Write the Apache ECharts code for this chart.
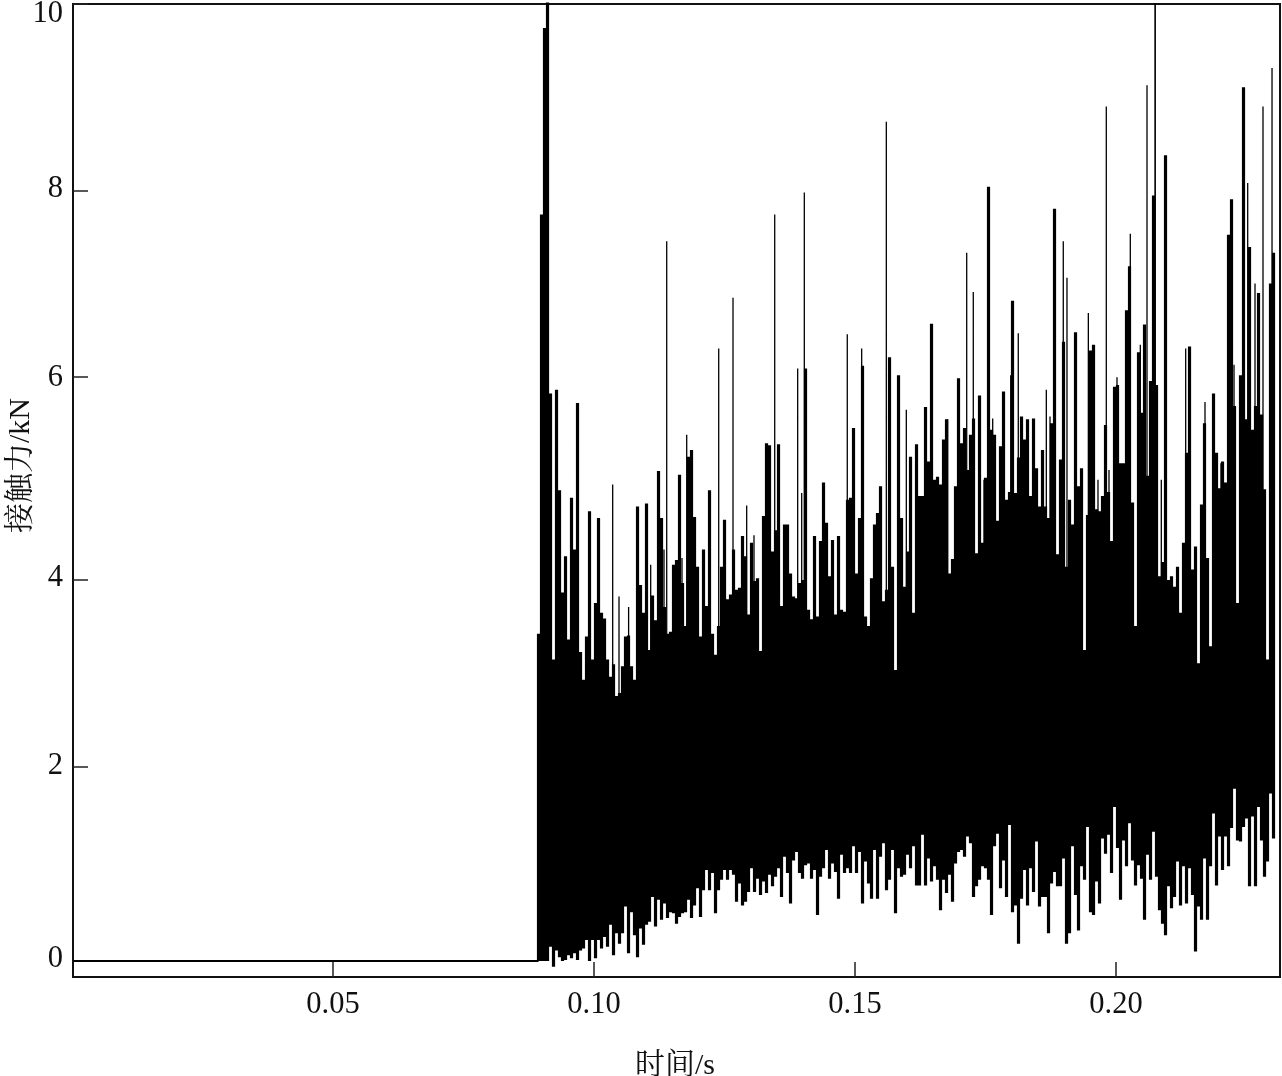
<!DOCTYPE html>
<html><head><meta charset="utf-8">
<style>html,body{margin:0;padding:0;background:#fff}#c{width:1282px;height:1076px}</style>
<script src="https://cdn.jsdelivr.net/npm/echarts@6/dist/echarts.min.js"></script>
</head><body><div id="c"></div>
<script>
// upper reach of the force trace (kN) in successive time slots after impact
const peakForce = [
3.42,7.8,9.75,10.03,5.93,3.15,5.97,4.92,3.85,4.23,
3.36,4.84,4.3,5.83,3.23,2.94,3.39,4.7,3.15,3.74,
4.63,3.64,3.58,3.15,2.97,3.1,2.77,2.8,3.08,3.39,
3.4,3.08,2.94,4.75,3.93,3.64,4.78,3.25,3.82,3.56,
5.12,4.63,3.7,3.42,3.44,4.14,4.19,5.08,3.95,3.5,
5.27,5.34,4.64,4.12,3.39,4.3,3.71,4.92,3.42,3.2,
3.5,4.12,4.61,3.78,3.83,4.3,3.88,3.9,4.44,4.23,
3.62,4.37,3.97,4.0,3.24,4.65,5.41,5.39,4.28,4.5,
5.4,3.71,4.56,4.56,4.05,3.81,3.79,3.95,3.98,6.19,
3.67,3.57,4.44,3.6,4.39,5.0,4.58,4.02,4.4,3.62,
4.44,3.67,3.65,4.82,4.84,5.57,4.05,4.63,6.22,3.6,
3.5,4.0,4.56,4.68,4.96,3.76,3.88,6.31,4.12,3.04,
6.12,4.63,3.91,4.28,5.27,3.64,5.4,4.86,4.86,5.79,
5.22,6.66,5.03,5.06,4.98,5.45,5.66,4.05,4.2,4.96,
6.09,5.41,5.57,5.13,5.5,5.67,4.26,5.91,4.37,5.05,
8.09,5.55,5.5,4.6,5.38,5.95,4.82,4.9,6.9,4.89,
5.26,5.69,5.45,5.66,4.86,5.67,5.15,4.75,5.34,4.75,
4.63,5.62,7.86,4.25,5.24,6.47,4.12,4.82,4.56,6.57,
4.96,5.15,3.25,4.66,6.38,6.44,4.72,4.7,4.86,5.6,
4.9,4.39,6.0,6.02,5.2,5.2,6.8,7.26,4.79,3.5,
6.36,5.73,6.65,5.07,6.06,8.0,6.02,4.02,4.17,8.42,
3.98,4.02,3.91,4.12,3.64,4.37,5.31,6.42,4.09,4.33,
3.11,4.77,5.62,4.21,3.29,5.93,5.31,4.94,5.22,5.0,
7.59,7.96,5.8,3.74,6.12,9.13,5.66,7.46,5.55,5.8,
6.98,5.71,4.93,3.15,7.08,7.4];
// lower reach of the force trace (kN) in the same time slots
const troughForce = [
0,0,0,0,.15,-.06,.11,.04,0,.01,
.06,.03,.08,.01,.11,.13,.22,0,.22,.03,
.22,.13,.25,.15,.38,.06,.29,.18,.29,.57,
.08,.51,.27,.04,.34,.17,.38,.41,.67,.36,
.64,.43,.6,.45,.51,.5,.39,.46,.5,.51,
.64,.45,.58,.76,.46,.74,.95,.74,.92,.5,
.74,.85,.95,.85,.95,.9,.62,.81,.58,.62,
.72,.97,.72,.86,.69,.83,.71,.9,.78,.88,
.97,.67,1.09,.92,.6,1.05,1.14,.92,.86,1.0,
1.02,.86,.95,.48,.88,.97,1.16,.86,1.02,.93,
.65,1.11,.92,.97,.92,1.2,.92,1.14,.6,1.04,
.81,.65,1.16,.65,1.09,1.23,.74,.85,1.16,.5,
.97,.88,.9,
1.11,.97,1.2,.79,.79,1.32,.79,1.07,.83,.99,
.85,.53,.85,.71,.9,.62,1.02,1.14,1.16,1.09,
1.3,1.23,.67,.78,.85,.99,.97,.85,.48,1.2,
1.33,.76,1.05,.67,1.42,.51,.58,.18,.65,.95,
.58,.97,.72,1.25,.57,.67,.67,.29,.81,.93,
.78,.78,1.07,.18,.29,1.2,.69,.32,.99,.85,
1.4,.51,.48,.83,.6,1.28,1.12,1.32,.92,1.61,
1.18,.64,1.26,.99,1.44,1.05,.79,1.0,.86,.43,
1.11,.85,1.35,.88,.53,.39,.27,.78,.55,.67,
1.04,.58,.99,.6,.97,.69,.1,.57,.43,1.07,
.43,.99,1.54,.79,1.3,.95,1.3,.99,1.39,1.8,
1.26,1.25,1.4,1.49,.78,1.51,.78,1.61,1.26,.88,
1.04,1.75,1.28];
// isolated narrow spikes: time (s)
const spikeTimes = [.10358,.10479,.10663,.11086,.11341,.11393,.11686,.11776,.12389,.12663,.12925,.13065,.13462,.13902,.13979,.14029,.14852,.15128,.156,.15983,.16776,.1714,.17266,.17471,.17638,.17983,.18128,.18665,.18736,.1899,.19061,.1947,.19655,.19814,.19866,.20019,.20274,.20466,.20594,.20747,.20753,.20868,.21335,.21705,.22011,.22261,.22523,.22663,.22816,.22989];
// isolated narrow spikes: tip force (kN)
const spikeForce = [4.98,3.81,3.7,4.14,4.3,7.52,4.21,5.5,6.4,6.93,4.76,4.45,7.8,6.19,4.89,8.03,6.55,6.4,8.77,5.76,5.66,7.4,6.99,5.03,5.67,6.12,6.56,5.97,5.69,7.52,7.14,6.77,5.03,8.93,5.13,6.1,7.6,6.44,9.15,10.03,10.03,5.03,6.4,5.84,5.2,6.23,8.13,7.08,8.93,9.33];
const spikeBase = 2.5;
const impactTime = 0.08937, slotTime = 3/5220;
const xTicks = [0.05,0.10,0.15,0.20];
const yTickValues = [0,2.03,3.98,6.11,8.05,10];
const yLabelAnchors = [0.02,2.04,4.0,6.09,8.07,9.9];
const xMin = 0.1-521/5220, xMax = 0.1+686/5220, yMin = -16/95.7, yMax = 957/95.7;

const traceData = [];
peakForce.forEach((v,i)=>{const t=impactTime+i*slotTime;traceData.push([t,troughForce[i]],[t,v],[t,null]);});
const spikeData = [];
spikeTimes.forEach((t,i)=>{spikeData.push([t,spikeBase],[t,spikeForce[i]],[t,null]);});

const serif = '"Liberation Serif","Noto Serif CJK SC","Noto Sans CJK SC",serif';
const axisTxt = {color:'#111',fontFamily:serif,fontSize:30.5};
const chart = echarts.init(document.getElementById('c'),null,{renderer:'canvas'});
chart.setOption({
  animation:false,
  grid:{left:73,right:2,top:4,bottom:99,outerBoundsMode:'none',containLabel:false,show:true,borderColor:'#111',borderWidth:2,backgroundColor:'#fff'},
  xAxis:{type:'value',min:xMin,max:xMax,name:'时间/s',nameLocation:'middle',nameGap:74,nameMoveOverlap:false,
    nameTextStyle:Object.assign({},axisTxt,{fontSize:30,padding:[0,3,0,0]}),
    axisLine:{show:true,onZero:false,lineStyle:{color:'#111',width:2}},splitLine:{show:false},
    axisTick:{show:true,inside:true,length:15,lineStyle:{color:'#222',width:1.5},customValues:xTicks},
    axisLabel:Object.assign({},axisTxt,{margin:13,customValues:xTicks,formatter:v=>v.toFixed(2)})},
  yAxis:{type:'value',min:yMin,max:yMax,name:'接触力/kN',nameLocation:'middle',nameGap:37,nameMoveOverlap:false,
    nameTextStyle:Object.assign({},axisTxt,{fontSize:30,padding:[0,0,0,50]}),
    axisLine:{show:true,onZero:false,lineStyle:{color:'#111',width:1.5}},splitLine:{show:false},
    axisTick:{show:true,inside:true,length:15,lineStyle:{color:'#222',width:1.5},customValues:yTickValues},
    axisLabel:Object.assign({},axisTxt,{margin:10,customValues:yLabelAnchors,formatter:v=>String(Math.round(v))})},
  series:[
    {type:'line',name:'zero',data:[[xMin,0],[impactTime,0]],showSymbol:false,silent:true,lineStyle:{color:'#000',width:2}},
    {type:'line',name:'trace',data:traceData,showSymbol:false,silent:true,sampling:false,connectNulls:false,lineStyle:{color:'#000',width:3.2,cap:'butt'}},
    {type:'line',name:'spikes',data:spikeData,showSymbol:false,silent:true,connectNulls:false,lineStyle:{color:'#000',width:1.3,cap:'butt'}}
  ]
});
</script></body></html>
